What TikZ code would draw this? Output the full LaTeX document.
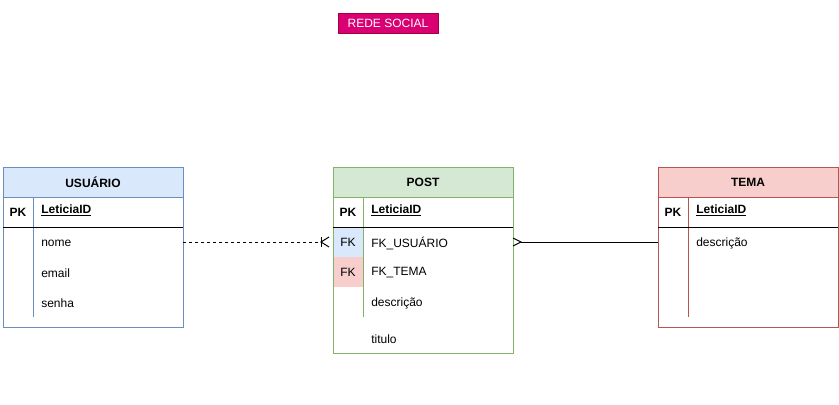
\documentclass[tikz,border=0pt]{standalone}
\usepackage{fontspec}
\setmainfont{Liberation Sans}
\definecolor{ufill}{HTML}{DAE8FC}
\definecolor{ustroke}{HTML}{6C8EBF}
\definecolor{pfill}{HTML}{D5E8D4}
\definecolor{pstroke}{HTML}{82B366}
\definecolor{tfill}{HTML}{F8CECC}
\definecolor{tstroke}{HTML}{B85450}
\definecolor{mfill}{HTML}{D80073}
\definecolor{mstroke}{HTML}{A50040}
\begin{document}
\begin{tikzpicture}[x=0.75pt,y=-0.75pt,font=\fontsize{9}{11}\selectfont,
  box/.style={rectangle,inner sep=0pt,outer sep=0pt,anchor=north west,line width=0.75pt},
  hdr/.style={box,font=\fontsize{9}{11}\selectfont\bfseries},
  fld/.style={anchor=west,inner sep=0pt},
  keyfld/.style={fld,font=\fontsize{9}{11}\selectfont\bfseries},
  pk/.style={anchor=center,inner sep=0pt,font=\fontsize{9}{11}\selectfont\bfseries},
  sep/.style={line width=0.75pt},
  conn/.style={line width=0.75pt},
  dashconn/.style={conn,dash pattern=on 2.25pt off 2.25pt}]
\useasboundingbox (0,0) rectangle (839,404);

% title
\node[box,fill=mfill,draw=mstroke,minimum width=75pt,minimum height=15pt,text=white] (title) at (338,13) {REDE SOCIAL};

% ---------- USUARIO ----------
\node[box,draw=ustroke,fill=white,minimum width=135pt,minimum height=120pt] (usuario) at (3,167) {};
\node[hdr,draw=ustroke,fill=ufill,minimum width=135pt,minimum height=22.5pt] (usuarioh) at (3,167) {USUÁRIO};
\draw[sep,draw=ustroke] (33,197) -- (33,317);
\draw[sep,black] (3,227) -- (183,227);
\node[pk] (upk) at (18,212.5) {PK};
\node[keyfld] (uid) at (41,210.5) {\underline{LeticiaID}};
\node[fld] (unome) at (41,243) {nome};
\node[fld] (uemail) at (41,273) {email};
\node[fld] (usenha) at (41,303) {senha};

% ---------- POST ----------
\node[box,draw=pstroke,fill=white,minimum width=135pt,minimum height=139.5pt] (post) at (333,167) {};
\node[box,fill=ufill,minimum width=22.5pt,minimum height=22.5pt] (pfk1) at (333,227) {FK};
\node[box,fill=tfill,minimum width=22.5pt,minimum height=22.5pt] (pfk2) at (333,257) {FK};
\draw[sep,draw=pstroke] (post.north west) rectangle (post.south east);
\node[hdr,draw=pstroke,fill=pfill,minimum width=135pt,minimum height=22.5pt] (posth) at (333,167) {POST};
\draw[sep,draw=pstroke] (363,197) -- (363,317);
\draw[sep,black] (333,227) -- (513,227);
\node[pk] (ppk) at (348,212.5) {PK};
\node[keyfld] (pid) at (371,210.5) {\underline{LeticiaID}};
\node[fld] (pfku) at (371,243) {FK\_USUÁRIO};
\node[fld] (pfkt) at (371,273) {FK\_TEMA};
\node[fld] (pdesc) at (371,303) {descrição};
\node[fld] (ptit) at (371,339) {titulo};

% ---------- TEMA ----------
\node[box,draw=tstroke,fill=white,minimum width=135pt,minimum height=120pt] (tema) at (658,167) {};
\node[hdr,draw=tstroke,fill=tfill,minimum width=135pt,minimum height=22.5pt] (temah) at (658,167) {TEMA};
\draw[sep,draw=tstroke] (688,197) -- (688,317);
\draw[sep,black] (658,227) -- (838,227);
\node[pk] (tpk) at (673,212.5) {PK};
\node[keyfld] (tid) at (696,210.5) {\underline{LeticiaID}};
\node[fld] (tdesc) at (696,243) {descrição};

% ---------- connectors ----------
\coordinate (c1bar) at (321,242);
\coordinate (c1end) at (329,242);
\draw[dashconn] (usuario.east |- c1bar) -- (c1bar);
\draw[conn] ([yshift=3.75pt]c1bar) -- ([yshift=-3.75pt]c1bar);
\draw[conn] ([yshift=3.75pt]c1end) -- (c1bar) -- ([yshift=-3.75pt]c1end);

\coordinate (c2apex) at (521,242);
\draw[conn] (tema.west |- c2apex) -- (c2apex);
\draw[conn] ([yshift=3pt]post.east |- c2apex) -- (c2apex) -- ([yshift=-3pt]post.east |- c2apex);
\end{tikzpicture}
\end{document}
